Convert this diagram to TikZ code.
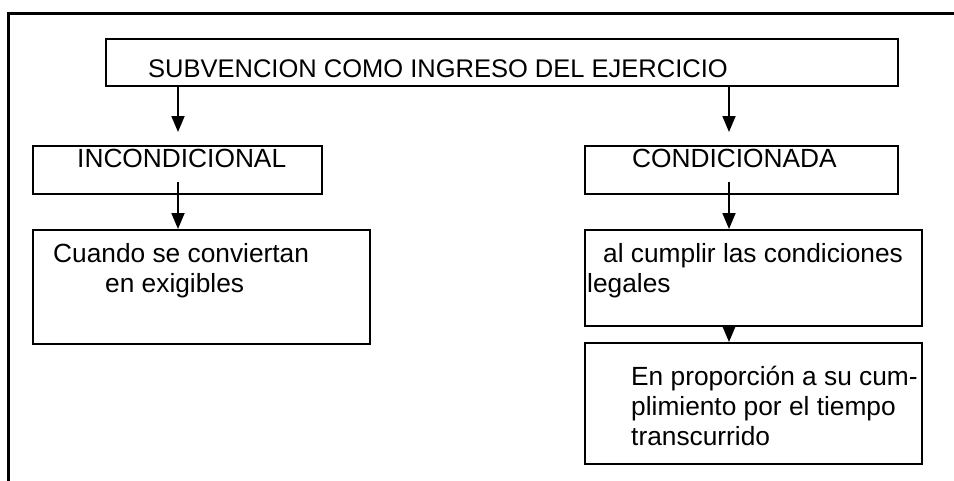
\documentclass[tikz,border=0pt]{standalone}
\usepackage{fontspec}
\setmainfont{Liberation Sans}
\usetikzlibrary{arrows.meta}
\begin{document}
\begin{tikzpicture}[x=1pt,y=-1pt,
  box/.style={draw=black,line width=1.9pt,rectangle,inner sep=0pt,anchor=north west},
  txt/.style={anchor=base west,inner sep=0pt,font=\fontsize{26.3}{30}\selectfont},
  arr/.style={draw=black,line width=1.8pt,-{Triangle[width=13pt,length=16pt]}},
  frame/.style={draw=black,line width=2.2pt}]
\useasboundingbox (0,0) rectangle (954,480);
% outer frame (only top and left visible)
\coordinate (fbl) at (8.5,481);
\coordinate (ftl) at (8.5,13.5);
\coordinate (ftr) at (955,13.5);
\draw[frame] (fbl) -- (ftl) -- (ftr);
% boxes
\node[box,minimum width=792pt,minimum height=47pt] (top) at (105,38) {};
\node[box,minimum width=289pt,minimum height=48pt] (inc) at (32,145) {};
\node[box,minimum width=337pt,minimum height=114pt] (cua) at (32,229) {};
\node[box,minimum width=313pt,minimum height=48pt] (con) at (584,145) {};
\node[box,minimum width=337pt,minimum height=96pt] (alc) at (584,229) {};
\node[box,minimum width=337pt,minimum height=121pt] (enp) at (584,342) {};
% texts
\node[txt,font=\fontsize{25.5}{30}\selectfont] (t0) at (148,77) {SUBVENCION COMO INGRESO DEL EJERCICIO};
\node[txt] (t1) at (77,167) {INCONDICIONAL};
\node[txt] (t2) at (632,167) {CONDICIONADA};
\node[txt] (t3a) at (53,262) {Cuando se conviertan};
\node[txt] (t3b) at (105,292) {en exigibles};
\node[txt] (t4a) at (603,262) {al cumplir las condiciones};
\node[txt] (t4b) at (587,292) {legales};
\node[txt] (t5a) at (631,385) {En proporción a su cum-};
\node[txt] (t5b) at (631,415) {plimiento por el tiempo};
\node[txt] (t5c) at (631,445) {transcurrido};
% arrow columns
\coordinate (ax1) at (178,0);
\coordinate (ax2) at (729,0);
% connectors
\draw[arr] (top.south -| ax1) -- ([yshift=13pt]inc.north -| ax1);
\draw[arr] (top.south -| ax2) -- ([yshift=13pt]con.north -| ax2);
\draw[arr] ([yshift=13pt]inc.south -| ax1) -- (cua.north -| ax1);
\draw[arr] ([yshift=13pt]con.south -| ax2) -- (alc.north -| ax2);
\draw[arr] ([yshift=2pt]alc.south -| ax2) -- (enp.north -| ax2);
\end{tikzpicture}
\end{document}
